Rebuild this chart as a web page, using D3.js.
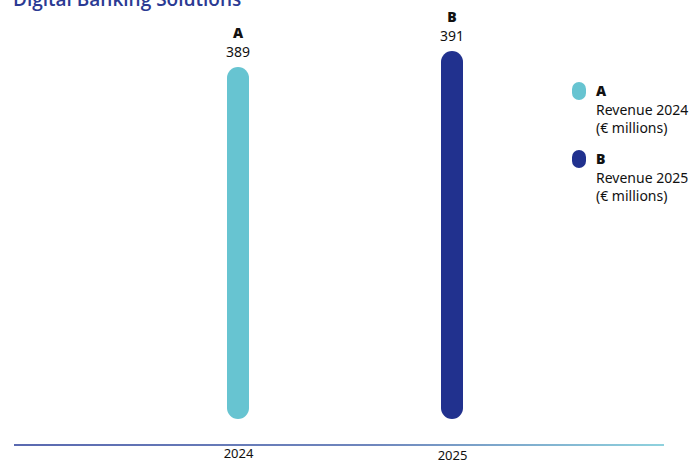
<!DOCTYPE html>
<html>
<head>
<meta charset="utf-8">
<script src="https://cdn.jsdelivr.net/npm/d3@7"></script>
<style>
  html, body { margin: 0; padding: 0; background: #fff; }
  svg { display: block; }
</style>
</head>
<body>
<svg id="chart" width="693" height="464"></svg>
<script>
// Revenue by year, € millions
const years = ["2024", "2025"];
const keys = ["A", "B"];
const revenue = [389, 391];
const legendLines = [["Revenue 2024", "(€ millions)"], ["Revenue 2025", "(€ millions)"]];
const colors = ["#67c4d1", "#21318e"];

const svg = d3.select("#chart");
const font = "'Noto Sans', 'Open Sans', sans-serif";

// Title (partly above the frame)
svg.append("text")
  .attr("x", 13).attr("y", 6)
  .attr("font-family", "'Open Sans', sans-serif")
  .attr("font-weight", 600)
  .attr("font-size", 19)
  .attr("fill", "#2b3a93")
  .text("Digital Banking Solutions");

const x = d3.scalePoint().domain(years).range([238, 452]);
const y = d3.scaleLinear().domain([345, 391]).range([419, 51]);
const barW = 22;

const g = svg.append("g");

// Pill-shaped bars
g.selectAll("rect.bar").data(revenue).join("rect")
  .attr("class", "bar")
  .attr("x", (d, i) => x(years[i]) - barW / 2)
  .attr("y", d => y(d))
  .attr("width", barW)
  .attr("height", d => y.range()[0] - y(d))
  .attr("rx", barW / 2).attr("ry", barW / 2)
  .attr("fill", (d, i) => colors[i]);

// Key letter and value above each bar
g.selectAll("text.key").data(revenue).join("text")
  .attr("class", "key")
  .attr("x", (d, i) => x(years[i]))
  .attr("y", d => y(d) - 29)
  .attr("text-anchor", "middle")
  .attr("font-family", font).attr("font-weight", 900).attr("font-size", 14)
  .attr("fill", "#111")
  .text((d, i) => keys[i]);

g.selectAll("text.val").data(revenue).join("text")
  .attr("class", "val")
  .attr("x", (d, i) => x(years[i]))
  .attr("y", d => y(d) - 10)
  .attr("text-anchor", "middle")
  .attr("font-family", font).attr("font-size", 14)
  .attr("fill", "#111")
  .text(d => d);

// Baseline with gradient
const defs = svg.append("defs");
const grad = defs.append("linearGradient").attr("id", "axisGrad")
  .attr("x1", "0%").attr("x2", "100%").attr("y1", "0%").attr("y2", "0%");
grad.append("stop").attr("offset", "0%").attr("stop-color", "#5a69b0");
grad.append("stop").attr("offset", "55%").attr("stop-color", "#6f86bd");
grad.append("stop").attr("offset", "100%").attr("stop-color", "#8fd2de");

svg.append("rect")
  .attr("x", 14).attr("y", 444)
  .attr("width", 650).attr("height", 2)
  .attr("fill", "url(#axisGrad)");

// Year labels
const xAxis = d3.axisBottom(x).tickSize(0).tickPadding(0);
const ax = svg.append("g").attr("transform", "translate(0,449)").call(xAxis);
ax.select(".domain").remove();
ax.selectAll("text")
  .attr("font-family", font).attr("font-size", 13).attr("fill", "#111")
  .attr("dy", (d, i) => i === 0 ? "0.71em" : "0.86em");

// Legend
const legend = svg.append("g");
keys.forEach((k, i) => {
  const top = 82 + i * 68;
  legend.append("rect")
    .attr("x", 572).attr("y", top).attr("width", 14).attr("height", 18)
    .attr("rx", 7).attr("ry", 7).attr("fill", colors[i]);
  legend.append("text")
    .attr("x", 596).attr("y", top + 14)
    .attr("font-family", font).attr("font-weight", 900).attr("font-size", 14)
    .attr("fill", "#111").text(k);
  legendLines[i].forEach((line, j) => {
    legend.append("text")
      .attr("x", 596).attr("y", top + 33 + j * 18)
      .attr("font-family", font).attr("font-size", 14)
      .attr("fill", "#111").text(line);
  });
});
</script>
</body>
</html>
